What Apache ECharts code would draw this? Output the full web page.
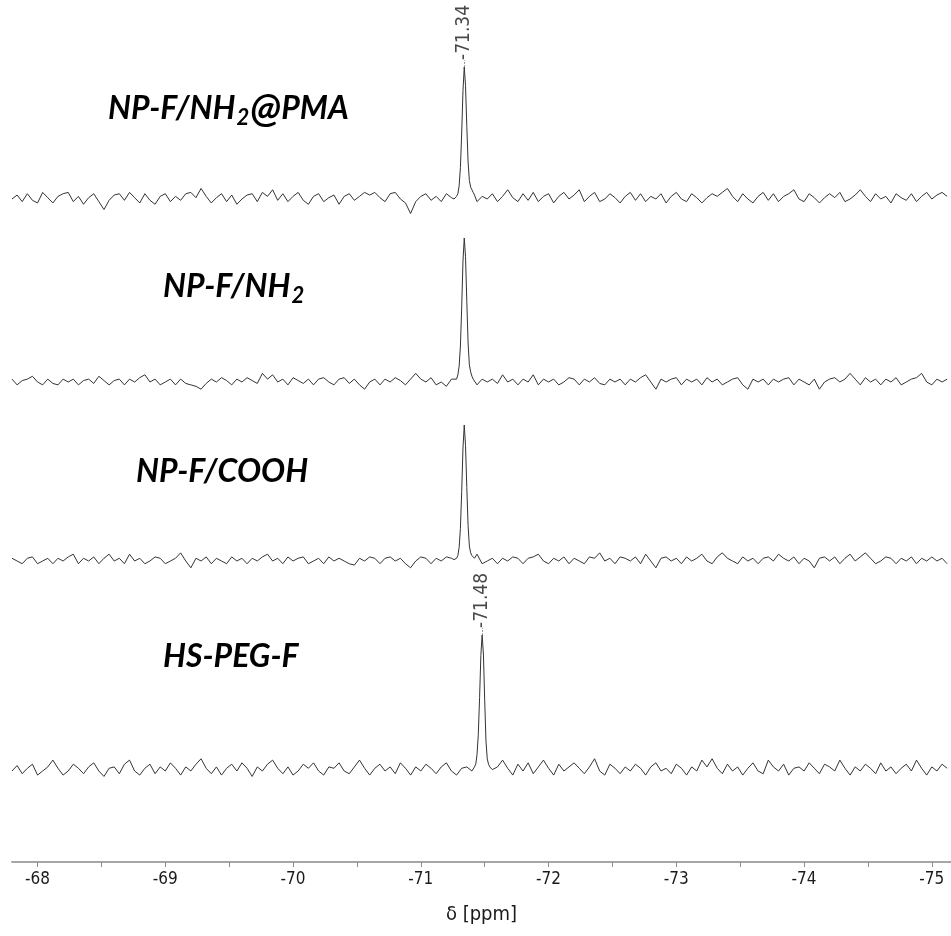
<!DOCTYPE html>
<html>
<head>
<meta charset="utf-8">
<title>19F NMR spectra</title>
<script src="https://cdn.jsdelivr.net/npm/echarts@6/dist/echarts.min.js"></script>
<style>
  html, body { margin: 0; padding: 0; background: #ffffff; }
  #chart { width: 951px; height: 936px; }
</style>
</head>
<body>
<div id="chart"></div>
<script>
// Chemical-shift sampling of the baseline (ppm), left to right
const ppmStart = -67.80;
const ppmStep = 0.04;

// Sample names, top to bottom
const sampleNames = ['NP-F/NH2@PMA', 'NP-F/NH2', 'NP-F/COOH', 'HS-PEG-F'];

// Peak positions (ppm)
const peakCenters = [-71.34, -71.34, -71.34, -71.48];
// Only these peaks carry a shift annotation
const annotatedPeaks = [true, false, false, true];

// Fine sampling around each peak (ppm offset from the peak centre)
const peakOffsets = [-0.08, -0.07, -0.06, -0.05, -0.04, -0.03, -0.02, -0.01, 0,
                      0.01, 0.02, 0.03, 0.04, 0.05, 0.06, 0.07, 0.08];

// Peak line shapes (relative intensity, peak maximum = 100)
const peakNHPMA = [3, 5, 7, 9, 14, 28, 55, 86, 100, 82, 50, 24, 10, 4, 2, 1, 0];
const peakNH2   = [1, 2, 4, 7, 12, 27, 56, 87, 100, 84, 52, 25, 11, 5, 2, 1, 2];
const peakCOOH  = [2, 3, 4, 6, 11, 26, 54, 85, 100, 83, 51, 24, 10, 4, 2, 1, 1];
const peakPEG   = [1, 4, 3, 5, 9, 22, 52, 86, 100, 85, 54, 27, 12, 5, 3, 1, 0];

// Baseline noise (relative intensity), one value per ppmStep
const noiseNHPMA = [
  0, 3, -2, 4, -1, -3, 5, 1, -3, 2,
  4, 5, -2, 2, -4, 1, 4, -2, -8, -1,
  3, 4, -1, 5, 1, -3, 4, -1, -4, 2,
  4, -2, 2, -1, 4, 5, 1, 8, 2, -3,
  1, 4, -2, 3, -4, 0, 3, 4, -2, 5,
  2, 7, -1, 4, -2, 2, 5, -1, -4, 2,
  4, -2, 1, 3, -4, 2, 4, -1, 2, 5,
  3, 5, 1, -2, 4, 5, 0, -3, -11, -2,
  2, 4, -1, 2, -2, 4, 1, 0, 0, 2,
  -1, -2, 2, 0, 4, -2, 2, 7, 1, -2,
  4, -1, 5, -2, 2, 4, -3, 2, 5, 0,
  3, 7, -2, 2, 5, -2, 0, 4, 1, -3,
  2, 5, -1, 4, -2, 2, 0, 4, -3, 2,
  5, 0, -2, 4, 1, -3, 1, 4, 2, 5,
  8, 2, -2, 4, 0, -3, 2, 5, -1, 4,
  -2, 2, 4, 7, 0, -2, 4, 1, -3, 1,
  4, 1, 5, -2, 0, 3, 7, 2, -2, 4,
  0, 2, -3, 4, 1, -1, 4, -2, 2, 5,
  0, 3, 5, 2
];
const noiseNH2 = [
  2, -2, 1, 2, 4, 0, -2, 2, -1, -2,
  2, 0, 2, -2, 1, 2, -1, 4, 1, -2,
  1, 2, -2, 2, 0, 3, 5, 0, 2, -2,
  0, 2, -2, 2, -1, -2, -3, -5, -1, 2,
  0, 3, 1, -2, 2, 0, 3, 1, -1, 6,
  2, 5, 0, 2, -2, 3, 1, -1, 2, -2,
  2, 3, 0, -2, 2, 3, -1, 2, -2, -5,
  0, 2, -2, 2, 0, 3, 1, -2, 2, 6,
  2, 0, 3, -2, 0, -3, 2, 0, 0, 0,
  0, -2, 2, 0, 2, -1, 5, 0, 2, -2,
  2, 0, 5, -2, 2, 0, 2, -2, 0, 3,
  2, -2, 2, 0, 3, -1, -2, 2, 0, 2,
  -2, 2, 0, 3, 5, 0, -5, 2, 0, 2,
  3, -2, 2, 0, 2, -2, 3, 0, 2, -2,
  0, 2, 3, -2, -5, 2, 0, 2, -2, 2,
  0, 2, 3, -2, 2, 0, -2, 2, -5, 0,
  2, 3, 0, 2, 6, 2, -2, 3, 0, 2,
  -2, 2, 0, 3, -2, 0, 2, 3, 6, 0,
  -2, 2, 0, 2
];
const noiseCOOH = [
  2, 0, -2, 2, 3, -2, 0, 2, -2, 2,
  0, 3, 5, -2, 2, 0, 3, -2, 2, 5,
  0, 2, -2, 5, 0, 2, -2, 0, 3, 2,
  -2, 0, 2, 6, 0, -5, 2, 0, 3, -2,
  2, 0, -2, 3, 0, 2, -2, 2, 0, 3,
  5, 0, 2, -2, 3, 0, 2, 3, -2, 0,
  2, -2, 3, 0, 2, 0, -2, -3, 2, 0,
  3, 2, -2, 2, 3, 0, 2, -2, -5, 0,
  3, 2, -2, 2, 0, 3, 2, 0, 0, 0,
  0, 5, -2, 0, 2, -2, 2, 0, 3, 2,
  -2, 2, 3, 5, 0, -2, 2, 0, 3, -2,
  2, 0, -2, 3, 2, 6, 0, 2, -2, 3,
  2, 0, 3, -2, 5, 0, -5, 2, 3, 0,
  2, -2, 3, 0, 2, 5, 0, -2, 3, 6,
  2, 0, -2, 3, 0, 2, -2, 2, 3, 0,
  5, 2, 0, 3, -2, 2, 0, -5, 2, 3,
  0, 3, -2, 2, 5, 0, 3, 6, 2, -2,
  0, 3, 2, -2, 2, 0, 3, -2, 2, 0,
  3, 0, 2, -2
];
const noisePEG = [
  0, 4, -2, 2, 5, -3, 0, 3, 8, 2,
  -3, 0, 5, 2, -2, 3, 6, 0, -4, 2,
  3, -2, 5, 8, 0, -3, 2, 5, -2, 3,
  0, 6, 2, -3, 3, 0, 5, 9, 2, -2,
  3, -3, 2, 5, 0, 6, 2, -4, 3, 0,
  5, 8, 2, -2, 3, -3, 0, 5, 2, 6,
  0, -3, 3, 2, 6, 0, -2, 3, 8, 2,
  -3, 2, 5, 0, 3, -2, 6, 2, -3, 3,
  0, 5, 2, -2, 3, 6, 0, -3, 2, 3,
  0, 0, 0, 0, 0, 3, 8, 2, -3, 5,
  0, 6, -2, 3, 8, 2, -3, 5, 0, 3,
  6, 2, -2, 3, 9, 0, -3, 5, 2, -2,
  3, 0, 5, 2, -3, 3, 6, 0, 2, -2,
  5, 2, -3, 3, 0, 8, 3, 9, 2, -2,
  5, 0, 3, -3, 2, 6, 0, -2, 8, 3,
  0, 5, -3, 2, 3, 0, 6, 2, -2, 5,
  3, 0, 8, 2, -3, 3, 0, 5, 2, -2,
  6, 0, 3, -2, 2, 5, 0, 8, 2, -3,
  3, 0, 5, 2
];

// Axis ticks
const axisMin = -75.15;
const axisMax = -67.80;
const tickLabels = [-68, -69, -70, -71, -72, -73, -74, -75];
const minorTicks = [-68.5, -69.5, -70.5, -71.5, -72.5, -73.5, -74.5];

const noiseSets = [noiseNHPMA, noiseNH2, noiseCOOH, noisePEG];
const peakSets = [peakNHPMA, peakNH2, peakCOOH, peakPEG];

// ---- layout (pixels) ----
const H = 936;
const axisLineY = 862;
const plotLeft = 12;
// baseline and peak-top positions of each trace
const traceBox = [
  { base: 199, top: 67 },
  { base: 382, top: 238 },
  { base: 561, top: 425 },
  { base: 771, top: 635 }
];
const nameBox = [
  { x: 108, y: 109 },
  { x: 163, y: 291 },
  { x: 136, y: 476 },
  { x: 163, y: 661 }
];
const smallFont = "'DejaVu Sans Condensed', 'Liberation Sans Narrow', 'Liberation Sans', sans-serif";

function buildTrace(k) {
  const noise = noiseSets[k];
  const peak = peakSets[k];
  const c = peakCenters[k];
  const pts = [];
  for (let i = 0; i < noise.length; i++) {
    const ppm = +(ppmStart - i * ppmStep).toFixed(2);
    if (Math.abs(ppm - c) <= 0.085) continue;
    pts.push([ppm, noise[i]]);
  }
  for (let j = 0; j < peakOffsets.length; j++) {
    pts.push([+(c + peakOffsets[j]).toFixed(3), peak[j]]);
  }
  pts.sort((a, b) => b[0] - a[0]);
  return pts;
}

const plotH = axisLineY;
const yAxes = traceBox.map((b) => {
  const s = (b.base - b.top) / 100;          // px per intensity unit
  return {
    type: 'value', gridIndex: 0, show: false,
    max: b.base / s,
    min: -(plotH - b.base) / s
  };
});

const series = [];
for (let k = 0; k < 4; k++) {
  series.push({
    type: 'line',
    xAxisIndex: 0,
    yAxisIndex: k,
    data: buildTrace(k),
    showSymbol: false,
    silent: true,
    animation: false,
    lineStyle: { color: '#333333', width: 1 },
    z: 3
  });
  if (annotatedPeaks[k]) {
    const c = peakCenters[k];
    const pv = Math.max(...peakSets[k]);
    series.push({
      type: 'scatter',
      xAxisIndex: 0,
      yAxisIndex: k,
      data: [[c, pv]],
      symbolSize: 0,
      silent: true,
      animation: false,
      label: {
        show: true,
        position: 'top',
        distance: 7,
        rotate: 90,
        align: 'left',
        verticalAlign: 'middle',
        formatter: (p) => p.value[0].toFixed(2),
        fontFamily: smallFont,
        fontSize: 19,
        color: '#1a1a1a'
      },
      markLine: {
        silent: true,
        symbol: 'none',
        animation: false,
        label: { show: false },
        lineStyle: { color: '#9a9a9a', width: 1, type: [2, 1] },
        data: [[{ coord: [c, pv] }, { coord: [c, pv + 5] }]]
      }
    });
  }
}

// Sample name labels with subscript "2"
const nameFont = "Lato, 'Open Sans', sans-serif";
function nameRich(name) {
  return name
    .split(/(NH2|@)/)
    .filter(part => part.length)
    .map(part => {
      if (part === 'NH2') return '{b|NH}{s|2}';
      if (part === '@') return '{at|@}';
      return '{b|' + part + '}';
    })
    .join('');
}
const textBase = { fontFamily: nameFont, fontWeight: 'bold', fontStyle: 'italic', fill: '#000' };
const graphics = sampleNames.map((name, k) => ({
  type: 'text',
  left: nameBox[k].x,
  top: nameBox[k].y - 20,
  silent: true,
  style: {
    text: nameRich(name),
    rich: {
      b: Object.assign({ fontSize: 32, lineHeight: 40 }, textBase),
      at: Object.assign({ fontSize: 40, lineHeight: 40 }, textBase),
      s: Object.assign({ fontSize: 22, lineHeight: 22, verticalAlign: 'bottom', padding: [0, 1, 0, 1] }, textBase)
    }
  }
}));

const chart = echarts.init(document.getElementById('chart'), null, { renderer: 'canvas' });
chart.setOption({
  animation: false,
  backgroundColor: '#ffffff',
  grid: { left: plotLeft, right: 0, top: 0, bottom: H - axisLineY, containLabel: false },
  xAxis: {
    type: 'value',
    min: axisMin,
    max: axisMax,
    inverse: true,
    position: 'bottom',
    splitLine: { show: false },
    axisLine: { show: true, onZero: false, lineStyle: { color: '#a6a6a6', width: 2 } },
    axisTick: {
      show: true,
      length: 5,
      customValues: tickLabels.concat(minorTicks),
      lineStyle: { color: '#8c8c8c', width: 1 }
    },
    axisLabel: {
      show: true,
      customValues: tickLabels,
      margin: 9,
      fontFamily: smallFont,
      fontSize: 17,
      color: '#1a1a1a',
      formatter: (v) => String(v)
    },
    name: 'δ [ppm]',
    nameLocation: 'middle',
    nameGap: 43,
    nameTextStyle: {
      fontFamily: smallFont,
      fontSize: 20,
      color: '#1a1a1a'
    }
  },
  yAxis: yAxes,
  series: series,
  graphic: graphics
});
</script>
</body>
</html>
